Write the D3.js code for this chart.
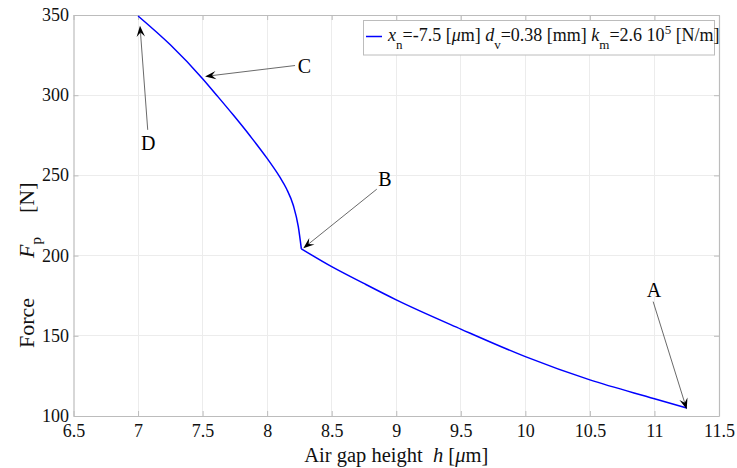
<!DOCTYPE html>
<html>
<head>
<meta charset="utf-8">
<script src="https://cdn.jsdelivr.net/npm/d3@7"></script>
<style>
  html, body { margin: 0; padding: 0; background: #ffffff; }
  svg { display: block; }
  text { font-family: "Liberation Serif", "Times New Roman", serif; white-space: pre; }
</style>
</head>
<body>
<svg id="chart" width="737" height="468"></svg>
<script>
// ---- data ----
const hUpper = [7.0, 7.25, 7.5, 7.609, 7.738, 7.867, 7.997, 8.1, 8.15, 8.203, 8.241, 8.265];
const FUpper = [349.4, 331.4, 310.3, 300.0, 287.6, 274.7, 260.9, 248.7, 241.7, 231.2, 218.2, 204.2];
const hLower = [8.265, 8.5, 8.745, 9.0, 9.5, 10.0, 10.5, 11.0, 11.25];
const FLower = [204.2, 193.1, 182.8, 172.4, 154.2, 137.0, 122.5, 110.8, 105.0];

const xTicks = [6.5, 7, 7.5, 8, 8.5, 9, 9.5, 10, 10.5, 11, 11.5];
const yTicks = [100, 150, 200, 250, 300, 350];

const annLabels = ["A", "B", "C", "D"];
const annTextPos = [[10.997, 178.6], [8.913, 247.8], [8.288, 318.5], [7.079, 270.1]];
const annTail    = [[10.99, 171.3], [8.849, 241.4], [8.216, 318.5], [7.075, 278.4]];
const annTip     = [[11.25, 104.2], [8.28, 204.6], [7.519, 311.7], [7.015, 343.3]];

// ---- layout ----
const svg = d3.select("#chart");
const x = d3.scaleLinear().domain([6.5, 11.5]).range([73.5, 719]);
const y = d3.scaleLinear().domain([100, 350]).range([416, 15]);
const [x0, x1] = x.range();
const [yb, yt] = y.range();
const axisColor = "#bcbcbc";
const gridColor = "#ececec";
const serif = "'Liberation Serif', 'Times New Roman', serif";

// grid
const grid = svg.append("g");
grid.selectAll("line.gx").data(xTicks.slice(1, -1)).join("line")
  .attr("x1", d => x(d)).attr("x2", d => x(d)).attr("y1", yt).attr("y2", yb)
  .attr("stroke", gridColor).attr("stroke-width", 1).attr("shape-rendering", "crispEdges");
grid.selectAll("line.gy").data(yTicks.slice(1, -1)).join("line")
  .attr("y1", d => y(d)).attr("y2", d => y(d)).attr("x1", x0).attr("x2", x1)
  .attr("stroke", gridColor).attr("stroke-width", 1).attr("shape-rendering", "crispEdges");

// axes (inward ticks, labels)
const tk = 5;
const fmt = d => String(d);
const axB = svg.append("g").attr("transform", `translate(0,${yb})`)
  .call(d3.axisBottom(x).tickValues(xTicks).tickSizeInner(-tk).tickSizeOuter(0).tickPadding(12).tickFormat(fmt));
const axT = svg.append("g").attr("transform", `translate(0,${yt})`)
  .call(d3.axisTop(x).tickValues(xTicks).tickSizeInner(-tk).tickSizeOuter(0).tickFormat(""));
const axL = svg.append("g").attr("transform", `translate(${x0},0)`)
  .call(d3.axisLeft(y).tickValues(yTicks).tickSizeInner(-tk).tickSizeOuter(0).tickPadding(4.5).tickFormat(fmt));
const axR = svg.append("g").attr("transform", `translate(${x1},0)`)
  .call(d3.axisRight(y).tickValues(yTicks).tickSizeInner(-tk).tickSizeOuter(0).tickFormat(""));
[axB, axT, axL, axR].forEach(g => {
  g.attr("font-family", serif).attr("font-size", 18);
  g.select(".domain").attr("stroke", axisColor).attr("stroke-width", 1.2);
  g.selectAll(".tick line").attr("stroke", axisColor);
  g.selectAll(".tick text").attr("fill", "#111")
    .style("font-family", serif).style("font-size", "18px");
});
axB.selectAll(".tick text").attr("dy", "0.5em");
axL.selectAll(".tick text").attr("dy", "0.3em");

// curve
const line = d3.line().x(d => x(d[0])).y(d => y(d[1])).curve(d3.curveMonotoneX);
const upper = hUpper.map((h, i) => [h, FUpper[i]]);
const lower = hLower.map((h, i) => [h, FLower[i]]);
svg.append("path").datum(upper).attr("d", line)
  .attr("fill", "none").attr("stroke", "#0000ff").attr("stroke-width", 1.5);
svg.append("path").datum(lower).attr("d", line)
  .attr("fill", "none").attr("stroke", "#0000ff").attr("stroke-width", 1.5);

// annotations
const ann = svg.append("g");
annLabels.forEach((lab, i) => {
  const tx = x(annTail[i][0]), ty = y(annTail[i][1]);
  const px = x(annTip[i][0]), py = y(annTip[i][1]);
  const ang = Math.atan2(py - ty, px - tx);
  const L = 11, W = 4.2;
  const bx = px - Math.cos(ang) * L * 0.6, by = py - Math.sin(ang) * L * 0.6;
  ann.append("line").attr("x1", tx).attr("y1", ty).attr("x2", bx).attr("y2", by)
    .attr("stroke", "#444").attr("stroke-width", 0.8);
  const pts = [[0, 0], [-L, W], [-L * 0.62, 0], [-L, -W]];
  ann.append("path")
    .attr("d", "M" + pts.map(p => p.join(",")).join("L") + "Z")
    .attr("transform", `translate(${px},${py}) rotate(${ang * 180 / Math.PI})`)
    .attr("fill", "#000");
  ann.append("text").attr("x", x(annTextPos[i][0])).attr("y", y(annTextPos[i][1]))
    .attr("text-anchor", "middle").attr("dominant-baseline", "central")
    .attr("font-size", 20).attr("fill", "#000").text(lab);
});

// axis labels
const xl = svg.append("text").attr("x", (x0 + x1) / 2).attr("y", 462)
  .attr("text-anchor", "middle").attr("font-size", 20.5).attr("fill", "#111");
xl.append("tspan").text("Air gap height  ");
xl.append("tspan").attr("font-style", "italic").text("h");
xl.append("tspan").text(" [");
xl.append("tspan").attr("font-style", "italic").text("\u03bc");
xl.append("tspan").text("m]");

const yl = svg.append("text").attr("transform", "translate(34,348) rotate(-90)")
  .attr("text-anchor", "start").attr("font-size", 22).attr("fill", "#111");
yl.append("tspan").text("Force");
yl.append("tspan").attr("font-style", "italic").attr("dx", 40).text("F");
yl.append("tspan").attr("font-size", 15).attr("dy", 7).text("p");
yl.append("tspan").attr("dy", -7).attr("dx", 24).text("[N]");

// legend
const leg = svg.append("g");
leg.append("rect").attr("x", 363.5).attr("y", 20.5).attr("width", 351).attr("height", 34.5)
  .attr("fill", "#fff").attr("stroke", "#bcbcbc").attr("stroke-width", 1);
leg.append("line").attr("x1", 366).attr("x2", 382).attr("y1", 36.5).attr("y2", 36.5)
  .attr("stroke", "#0000ff").attr("stroke-width", 1.5);
const lt = leg.append("text").attr("x", 388).attr("y", 41).attr("font-size", 18).attr("fill", "#111")
  .style("white-space", "normal");
const sub = 13, sh = 8, sup = 7;
lt.append("tspan").attr("font-style", "italic").text("x");
lt.append("tspan").attr("font-size", sub).attr("dy", sh).text("n");
lt.append("tspan").attr("dy", -sh).text("=-7.5 [");
lt.append("tspan").attr("font-style", "italic").text("\u03bc");
lt.append("tspan").text("m] ");
lt.append("tspan").attr("font-style", "italic").text("d");
lt.append("tspan").attr("font-size", sub).attr("dy", sh).text("v");
lt.append("tspan").attr("dy", -sh).text("=0.38 [mm] ");
lt.append("tspan").attr("font-style", "italic").text("k");
lt.append("tspan").attr("font-size", sub).attr("dy", sh).text("m");
lt.append("tspan").attr("dy", -sh).text("=2.6 10");
lt.append("tspan").attr("font-size", sub).attr("dy", -sup).text("5");
lt.append("tspan").attr("dy", sup).text(" [N/m]");
</script>
</body>
</html>
